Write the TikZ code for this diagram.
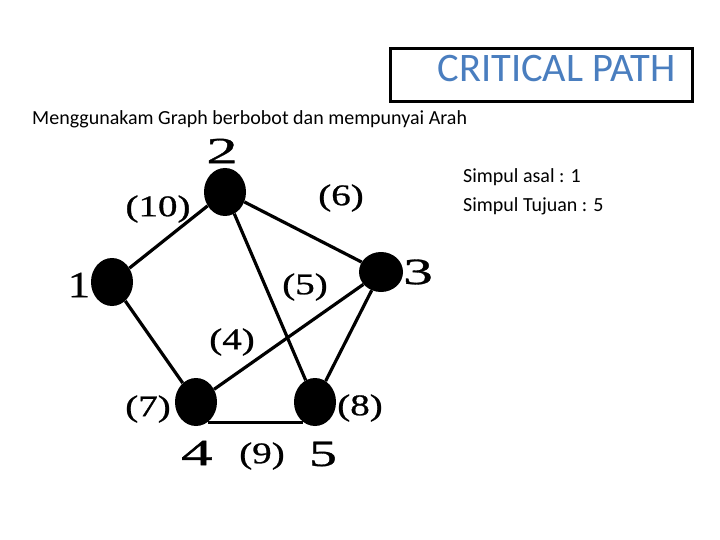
\documentclass[tikz,border=0pt]{standalone}
\usepackage{fontspec}
\usetikzlibrary{shapes.geometric}
\setmainfont{Carlito}
\newfontfamily\graphfont[FakeBold=0.8]{Liberation Serif}
\definecolor{titleblue}{RGB}{74,126,191}
\newcommand{\wide}[2]{\scalebox{#1}[1]{#2}}
\begin{document}
\begin{tikzpicture}[x=1pt,y=-1pt,
  vtx/.style={ellipse, fill=black, minimum width=42pt, minimum height=48pt, inner sep=0pt},
  edge/.style={line width=3.2pt},
  glabel/.style={font=\graphfont\fontsize{37}{37}\selectfont, inner sep=0pt},
  wlabel/.style={font=\graphfont\fontsize{30}{30}\selectfont, inner sep=0pt},
  plain/.style={font=\fontsize{20}{20}\selectfont, inner sep=0pt, anchor=west}]
\useasboundingbox (0,0) rectangle (720,540);
% title
\node[draw, line width=3pt, minimum width=302pt, minimum height=53pt, inner sep=0pt] (tbox) at (541,75) {};
\node[font=\fontsize{40.5}{40.5}\selectfont, text=titleblue, anchor=east, inner sep=0pt] (title) at (676,68) {CRITICAL PATH};
\node[plain] (sub) at (32,119) {Menggunakam Graph berbobot dan mempunyai Arah};
\node[plain] (s1) at (463,177) {Simpul asal : 1};
\node[plain] (s2) at (463,206) {Simpul Tujuan : 5};
% vertices
\node[vtx] (n1) at (112,282) {};
\node[vtx] (n2) at (225,192) {};
\node[vtx, minimum height=40pt, minimum width=44pt] (n3) at (381,272) {};
\node[vtx] (n4) at (196,402) {};
\node[vtx] (n5) at (315,402) {};
% edges
\draw[edge] (n1) -- (n2);
\draw[edge] (n2) -- (n3);
\draw[edge] (n2) -- (n5);
\draw[edge] (n3) -- (n4);
\draw[edge] (n3) -- (n5);
\draw[edge] (n1) -- (n4);
\draw[edge] (n4.-60) -- (n5.-120);
% labels
\node[glabel] (l2) at (222,151) {\wide{1.7}{2}};
\node[glabel] (l1) at (79,285) {\wide{1.2}{1}};
\node[glabel] (l3) at (418,272) {\wide{1.6}{3}};
\node[glabel] (l4) at (197,453) {\wide{1.7}{4}};
\node[glabel] (l5) at (323,454) {\wide{1.5}{5}};
\node[wlabel] (w10) at (158,209) {\wide{1.3}{(10)}};
\node[wlabel] (w6) at (341,198) {\wide{1.3}{(6)}};
\node[wlabel] (w5) at (305,287) {\wide{1.3}{(5)}};
\node[wlabel] (w4) at (232,342) {\wide{1.3}{(4)}};
\node[wlabel] (w7) at (148,409) {\wide{1.3}{(7)}};
\node[wlabel] (w8) at (360,408) {\wide{1.3}{(8)}};
\node[wlabel] (w9) at (262,456) {\wide{1.3}{(9)}};
\end{tikzpicture}
\end{document}
